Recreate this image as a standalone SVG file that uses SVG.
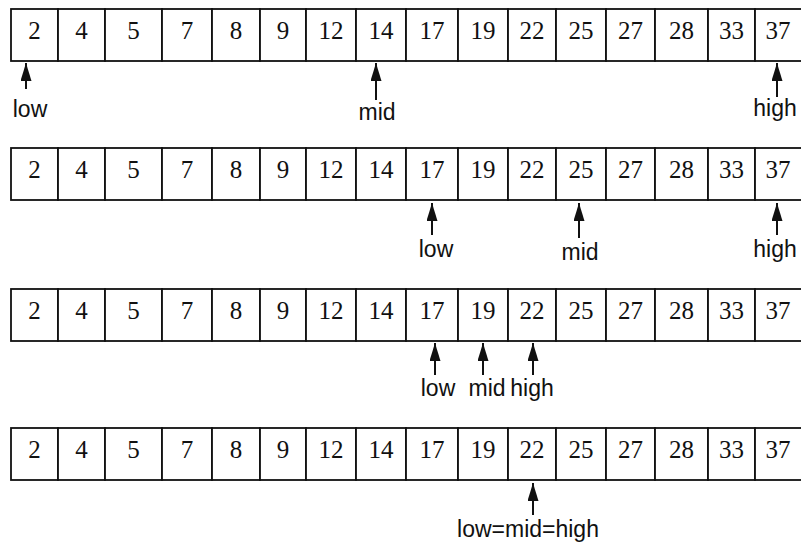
<svg xmlns="http://www.w3.org/2000/svg" width="801" height="544" viewBox="0 0 801 544">
<style>
.c{fill:#fff;stroke:#111;stroke-width:1.8}
.n{font-family:"Liberation Serif",serif;font-size:25px;fill:#111;text-anchor:middle}
.l{font-family:"Liberation Sans",Arial,sans-serif;font-size:23px;fill:#111;text-anchor:middle}
.a{stroke:#111;stroke-width:2;fill:none}
</style>
<defs>
<marker id="ah" markerUnits="userSpaceOnUse" viewBox="0 0 18 11" refX="18" refY="5.5" markerWidth="18" markerHeight="11" orient="auto">
<path d="M0,0 L18,5.5 L0,11 z" fill="#111"/>
</marker>
<g id="row">
<g><rect class="c" x="11" y="0" width="47" height="52"/><text class="n" x="34.5" y="30">2</text></g>
<g><rect class="c" x="58" y="0" width="47" height="52"/><text class="n" x="81.5" y="30">4</text></g>
<g><rect class="c" x="105" y="0" width="57" height="52"/><text class="n" x="133.5" y="30">5</text></g>
<g><rect class="c" x="162" y="0" width="50" height="52"/><text class="n" x="187" y="30">7</text></g>
<g><rect class="c" x="212" y="0" width="48" height="52"/><text class="n" x="236" y="30">8</text></g>
<g><rect class="c" x="260" y="0" width="46" height="52"/><text class="n" x="283" y="30">9</text></g>
<g><rect class="c" x="306" y="0" width="50" height="52"/><text class="n" x="331" y="30">12</text></g>
<g><rect class="c" x="356" y="0" width="50" height="52"/><text class="n" x="381" y="30">14</text></g>
<g><rect class="c" x="406" y="0" width="52" height="52"/><text class="n" x="432" y="30">17</text></g>
<g><rect class="c" x="458" y="0" width="50" height="52"/><text class="n" x="483" y="30">19</text></g>
<g><rect class="c" x="508" y="0" width="48" height="52"/><text class="n" x="532" y="30">22</text></g>
<g><rect class="c" x="556" y="0" width="50" height="52"/><text class="n" x="581" y="30">25</text></g>
<g><rect class="c" x="606" y="0" width="49" height="52"/><text class="n" x="630.5" y="30">27</text></g>
<g><rect class="c" x="655" y="0" width="53" height="52"/><text class="n" x="681.5" y="30">28</text></g>
<g><rect class="c" x="708" y="0" width="47" height="52"/><text class="n" x="731.5" y="30">33</text></g>
<g><rect class="c" x="755" y="0" width="52" height="52"/><text class="n" x="778" y="30">37</text></g>
</g>
</defs>
<rect width="801" height="544" fill="#fff"/>
<g id="array1"><use href="#row" y="9"/></g>
<g id="array2"><use href="#row" y="148"/></g>
<g id="array3"><use href="#row" y="289"/></g>
<g id="array4"><use href="#row" y="428"/></g>
<g id="connectors">
<line class="a" x1="26" y1="89" x2="26" y2="63" marker-end="url(#ah)"/>
<line class="a" x1="376" y1="100" x2="376" y2="63" marker-end="url(#ah)"/>
<line class="a" x1="777" y1="97" x2="777" y2="63" marker-end="url(#ah)"/>
<line class="a" x1="432" y1="235" x2="432" y2="203" marker-end="url(#ah)"/>
<line class="a" x1="579" y1="238" x2="579" y2="203" marker-end="url(#ah)"/>
<line class="a" x1="777" y1="235" x2="777" y2="203" marker-end="url(#ah)"/>
<line class="a" x1="435" y1="375" x2="435" y2="343" marker-end="url(#ah)"/>
<line class="a" x1="483" y1="375" x2="483" y2="343" marker-end="url(#ah)"/>
<line class="a" x1="533" y1="375" x2="533" y2="343" marker-end="url(#ah)"/>
<line class="a" x1="533" y1="515" x2="533" y2="483" marker-end="url(#ah)"/>
</g>
<g id="low1"><text class="l" x="30" y="117">low</text></g>
<g id="mid1"><text class="l" x="377" y="120">mid</text></g>
<g id="high1"><text class="l" x="775" y="116">high</text></g>
<g id="low2"><text class="l" x="436" y="257">low</text></g>
<g id="mid2"><text class="l" x="580" y="260">mid</text></g>
<g id="high2"><text class="l" x="775" y="257">high</text></g>
<g id="low3"><text class="l" x="438" y="396">low</text></g>
<g id="mid3"><text class="l" x="487" y="396">mid</text></g>
<g id="high3"><text class="l" x="532" y="396">high</text></g>
<g id="lmh4"><text class="l" x="528" y="537">low=mid=high</text></g>
</svg>
